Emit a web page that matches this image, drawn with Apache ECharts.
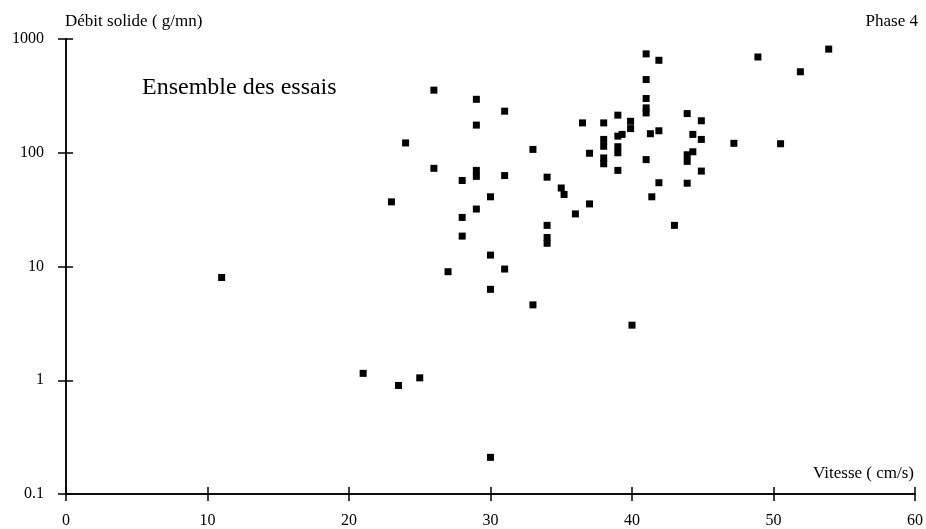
<!DOCTYPE html>
<html>
<head>
<meta charset="utf-8">
<script src="https://cdn.jsdelivr.net/npm/echarts@6/dist/echarts.min.js"></script>
<style>
html,body{margin:0;padding:0;background:#fff;}
#chart{width:926px;height:529px;}
</style>
</head>
<body>
<div id="chart"></div>
<script>
// Vitesse (cm/s)
const vitesse = [
  11, 23, 24, 26, 26, 28, 28, 28, 29, 29,
  29, 29, 29, 30, 30, 30, 30, 31, 31, 31,
  27, 25, 23.5, 21, 33, 33, 34, 34, 34, 34,
  35, 35.2, 36, 37, 36.5, 37, 38, 38, 38, 38,
  38, 39, 39, 39, 39, 39, 39.3, 39.9, 39.9, 40,
  41, 41, 41, 41, 41, 41, 41.3, 41.4, 41.9, 41.9,
  41.9, 43.9, 43.9, 43.9, 43.9, 44.3, 44.3, 44.9, 44.9, 44.9,
  47.2, 50.5, 48.9, 51.9, 53.9, 43
];
// Débit solide (g/mn)
const debit = [
  8, 37, 122, 355, 73, 57, 27, 18.5, 295, 175,
  70, 62, 32, 41, 12.6, 6.3, 0.21, 232, 63, 9.5,
  9, 1.05, 0.9, 1.15, 107, 4.6, 61, 23, 18, 16,
  49, 43, 29, 35.5, 183, 99, 183, 131, 114, 90,
  80, 214, 140, 113, 100, 70, 145, 189, 163, 3.05,
  740, 440, 300, 248, 224, 87, 147, 41, 650, 156,
  54.5, 221, 96, 84, 54, 145, 102, 191, 131, 69,
  121, 120, 695, 515, 815, 23
];
const xTicks = [0, 10, 20, 30, 40, 50, 60];
const yTicks = [0.1, 1, 10, 100, 1000];

const points = vitesse.map((v, i) => [v, debit[i]]);
const FONT = '"Liberation Serif", "Times New Roman", serif';

const chart = echarts.init(document.getElementById('chart'), null, {renderer: 'canvas'});
const labelStyle = {color: '#000', fontFamily: FONT, fontSize: 16};
const axisLine = {show: true, lineStyle: {color: '#000', width: 1.5}};

chart.setOption({
  backgroundColor: '#fff',
  animation: false,
  grid: {left: 66, right: 10, top: 39, bottom: 35, containLabel: false},
  xAxis: [
    {
      type: 'value', min: xTicks[0], max: xTicks[xTicks.length - 1], interval: 10,
      position: 'bottom',
      axisLine: axisLine,
      axisTick: {show: true, inside: false, length: 7, lineStyle: {color: '#000', width: 1.5}},
      axisLabel: Object.assign({margin: 19}, labelStyle),
      splitLine: {show: false}
    },
    {
      type: 'value', min: xTicks[0], max: xTicks[xTicks.length - 1], interval: 10,
      position: 'bottom',
      axisLine: axisLine,
      axisTick: {show: true, inside: true, length: 7, lineStyle: {color: '#000', width: 1.5}},
      axisLabel: {show: false},
      splitLine: {show: false}
    }
  ],
  yAxis: [
    {
      type: 'log', logBase: 10, min: yTicks[0], max: yTicks[yTicks.length - 1],
      position: 'left',
      axisLine: axisLine,
      axisTick: {show: true, inside: false, length: 8, lineStyle: {color: '#000', width: 1.5}},
      axisLabel: Object.assign({margin: 22, formatter: v => String(+v.toPrecision(3))}, labelStyle),
      splitLine: {show: false},
      minorTick: {show: false}
    },
    {
      type: 'log', logBase: 10, min: yTicks[0], max: yTicks[yTicks.length - 1],
      position: 'left',
      axisLine: axisLine,
      axisTick: {show: true, inside: true, length: 7, lineStyle: {color: '#000', width: 1.5}},
      axisLabel: {show: false},
      splitLine: {show: false}
    }
  ],
  series: [{
    type: 'scatter',
    xAxisIndex: 0, yAxisIndex: 0,
    symbol: 'rect',
    symbolSize: 7,
    itemStyle: {color: '#000', opacity: 1},
    data: points
  }],
  graphic: [
    {type: 'text', left: 65, top: 13, style: {text: 'Débit solide ( g/mn)', font: '17px ' + FONT, fill: '#000'}},
    {type: 'text', right: 8, top: 13, style: {text: 'Phase 4', font: '17px ' + FONT, fill: '#000'}},
    {type: 'text', left: 142, top: 76, style: {text: 'Ensemble des essais', font: '24px ' + FONT, fill: '#000'}},
    {type: 'text', right: 12, top: 465, style: {text: 'Vitesse ( cm/s)', font: '17px ' + FONT, fill: '#000'}}
  ]
});
</script>
</body>
</html>
